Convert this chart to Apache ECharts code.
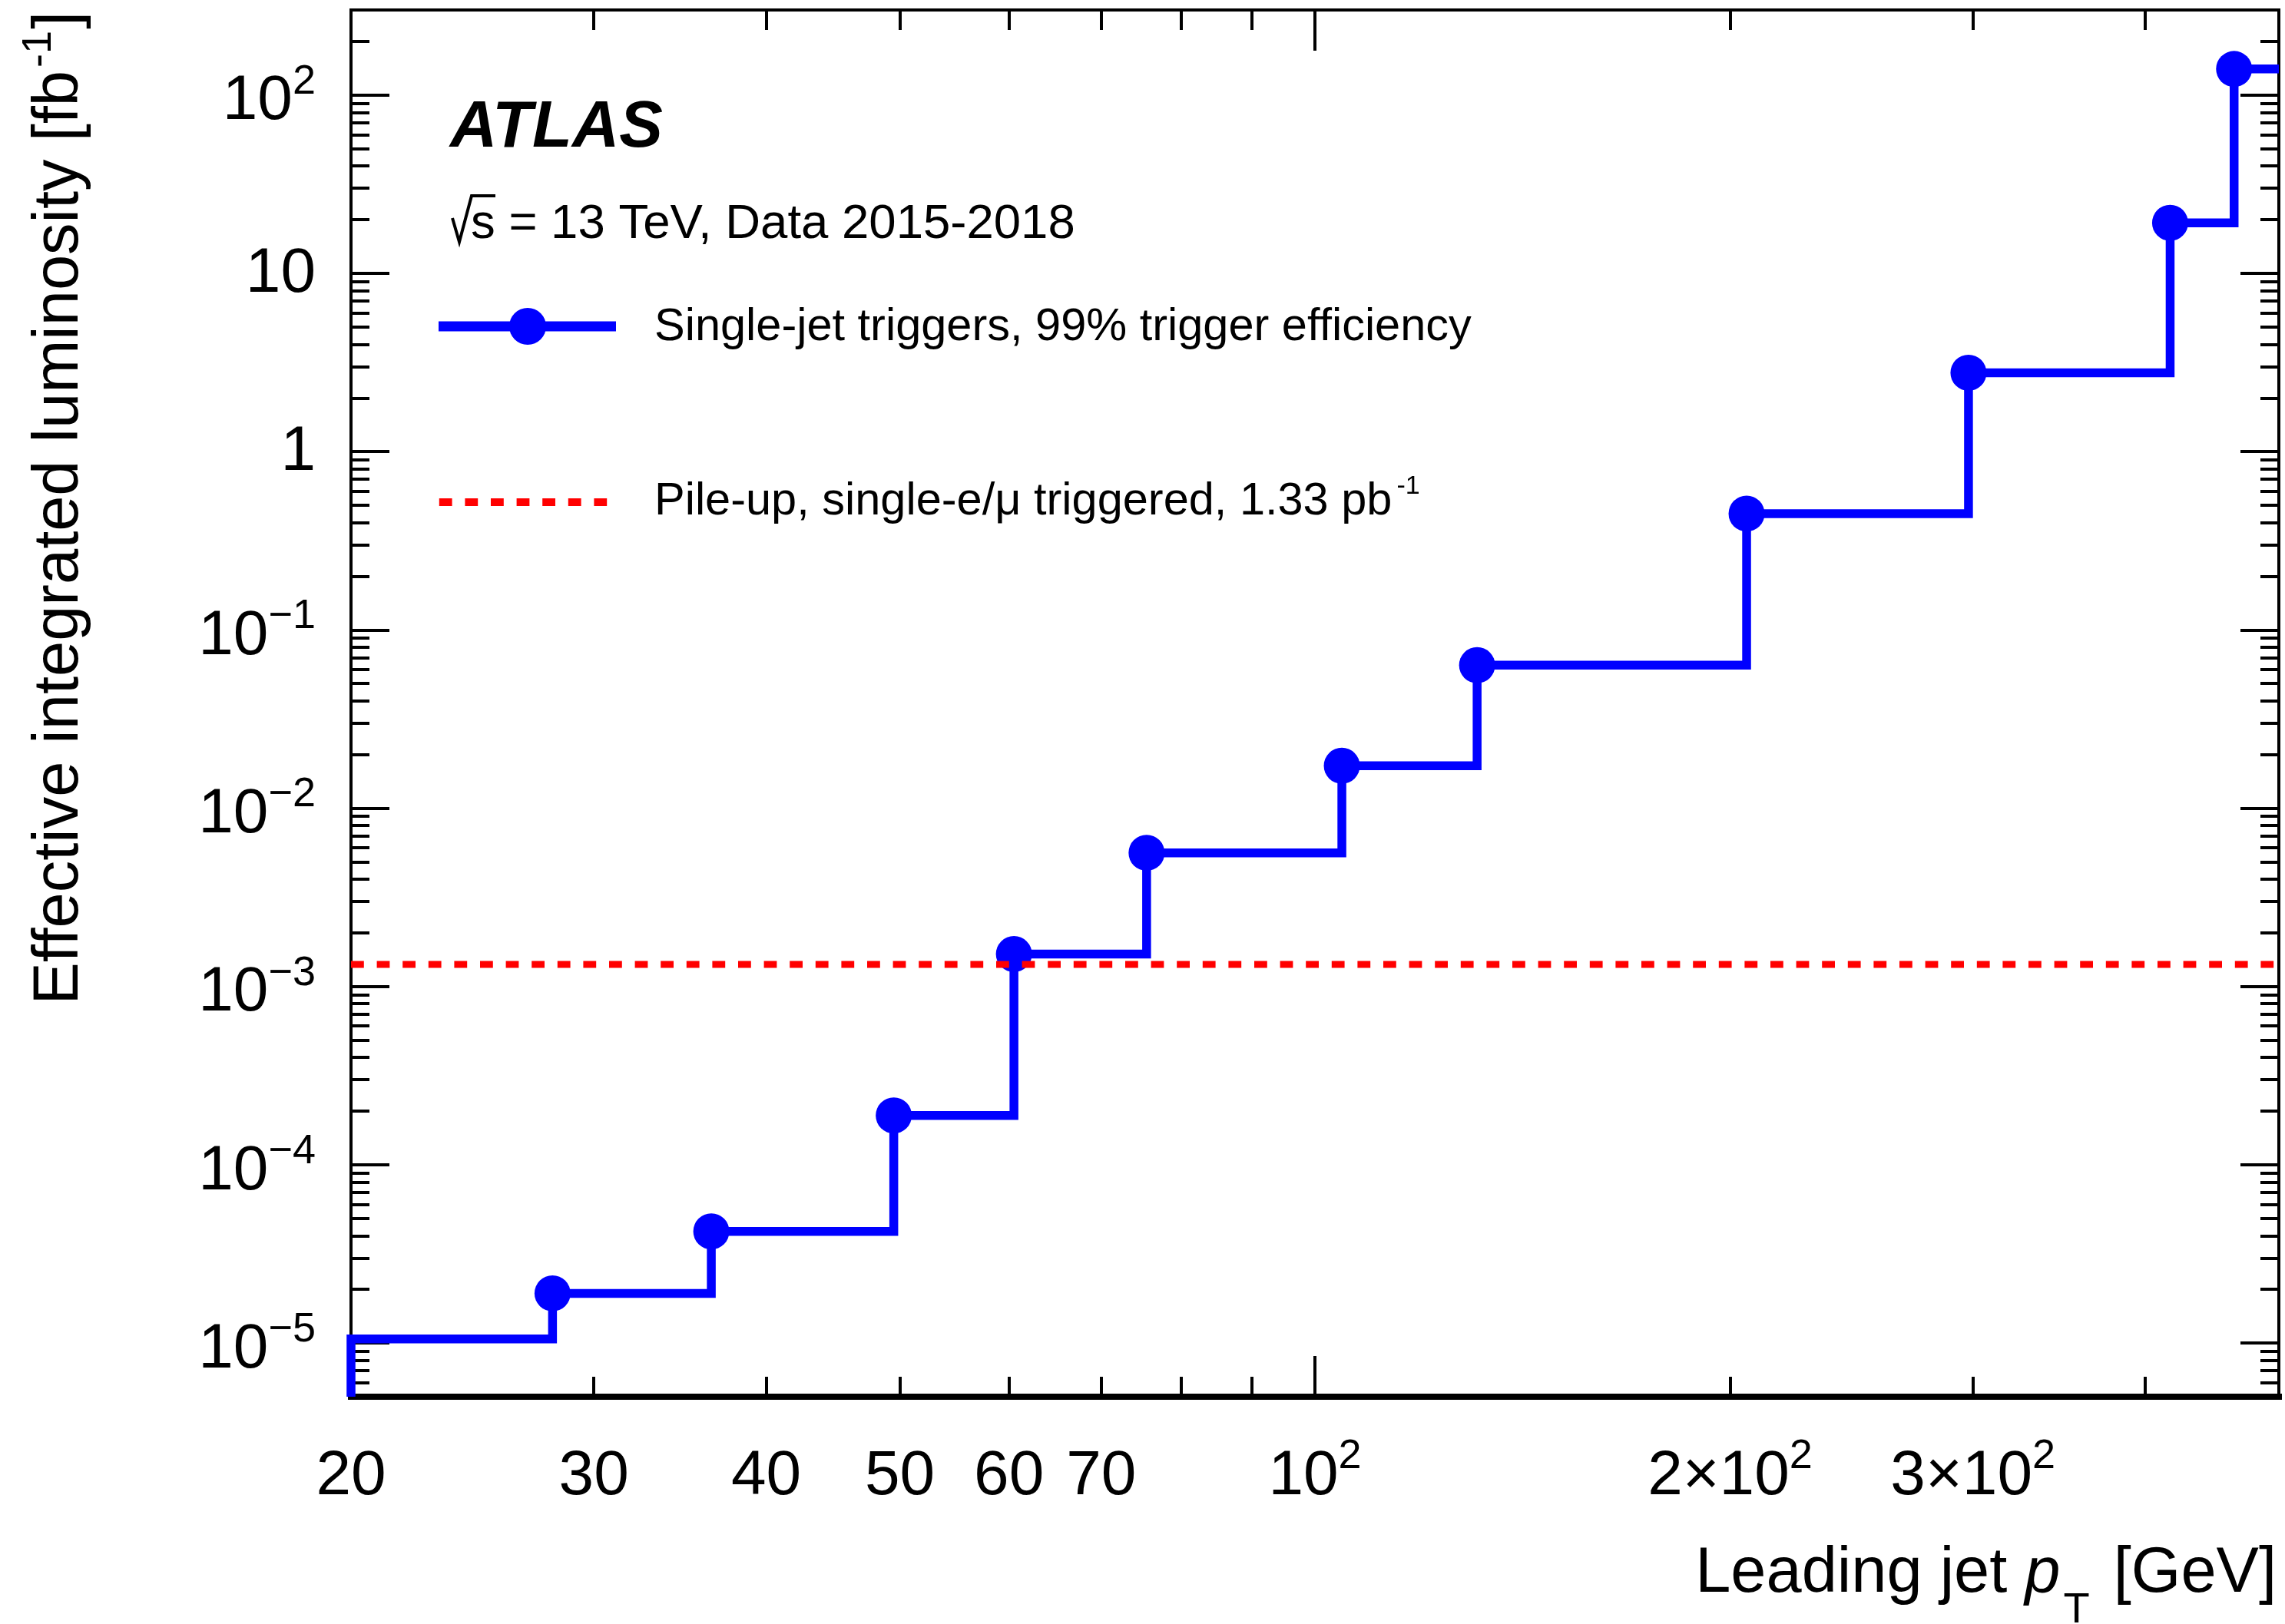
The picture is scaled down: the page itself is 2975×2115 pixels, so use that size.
<!DOCTYPE html>
<html>
<head>
<meta charset="utf-8">
<title>Effective integrated luminosity vs leading jet pT</title>
<script src="https://cdn.jsdelivr.net/npm/echarts@6/dist/echarts.min.js"></script>
<style>
  html, body { margin: 0; padding: 0; background: #ffffff; }
  #chart { width: 2975px; height: 2115px; }
</style>
</head>
<body>
<div id="chart"></div>
<script>
// Single-jet trigger thresholds: lower bin edge in leading-jet pT [GeV]
const ptEdges = [20, 28.0, 36.5, 49.5, 60.5, 75.5, 104.6, 131.1, 205.6, 297.8, 417, 464];
// Effective integrated luminosity of each bin [fb^-1]
const effLumi = [1.055e-5, 1.90e-5, 4.23e-5, 1.89e-4, 1.52e-3, 5.62e-3, 1.73e-2, 6.34e-2, 0.449, 2.77, 19.2, 140];
// Pile-up sample, single-e/mu triggered: 1.33 pb^-1 expressed in fb^-1
const pileupLumi = 1.33e-3;

// Axis ranges
const X_RANGE = [20, 500];
const Y_RANGE = [5e-6, 300];

// Tick labels: [base, superscript]
const xLabelValues = [20, 30, 40, 50, 60, 70, 100, 200, 300];
const xLabelTexts = [['20', ''], ['30', ''], ['40', ''], ['50', ''], ['60', ''], ['70', ''],
                     ['10', '2'], ['2×10', '2'], ['3×10', '2']];
const xMajorTicks = [100];
const xMinorTicks = [30, 40, 50, 60, 70, 80, 90, 200, 300, 400];

const yLabelValues = [1e-5, 1e-4, 1e-3, 1e-2, 1e-1, 1, 10, 100];
const yLabelTexts = [['10', '−5'], ['10', '−4'], ['10', '−3'], ['10', '−2'], ['10', '−1'],
                     ['1', ''], ['10', ''], ['10', '2']];
const yMajorTicks = yLabelValues;
const yMinorTicks = [];
for (let d = -6; d <= 2; d++) {
  for (let k = 2; k <= 9; k++) {
    const v = k * Math.pow(10, d);
    if (v > Y_RANGE[0] * 1.0001 && v < Y_RANGE[1] * 0.9999) yMinorTicks.push(v);
  }
}

const FONT = '"Liberation Sans", Arial, Helvetica, sans-serif';
const BLACK = '#000000';
const BLUE = '#0000ff';
const RED = '#ff0000';
const lg = v => Math.log10(v);

// Tick decorations live on helper value axes expressed in log10 units,
// stacked on the same grid as the log axes that carry the data.
function labelFor(values, texts, v, plainStyle) {
  let idx = -1;
  values.forEach((x, i) => { if (Math.abs(lg(x) - v) < 1e-9) idx = i; });
  if (idx < 0) return '';
  const base = texts[idx][0], sup = texts[idx][1];
  return sup ? '{b|' + base + '}{s|' + sup + '}' : '{' + plainStyle + '|' + base + '}';
}

function tickAxis(range, position, ticks, len, showLine, lineWidth) {
  return {
    type: 'value',
    position: position,
    min: lg(range[0]),
    max: lg(range[1]),
    axisLine: { show: !!showLine, onZero: false,
                lineStyle: { color: BLACK, width: lineWidth || 4, cap: 'square' } },
    axisTick: { show: true, inside: true, length: len, customValues: ticks.map(lg),
                lineStyle: { color: BLACK, width: 4 } },
    axisLabel: { show: false },
    splitLine: { show: false },
    splitArea: { show: false }
  };
}

// Exponent labels: base digits sit at the bottom of the line box, the exponent at its top
const labelRich = {
  b: { fontSize: 82, lineHeight: 100, verticalAlign: 'bottom', fontFamily: FONT, color: BLACK },
  s: { fontSize: 54, lineHeight: 54, padding: [6, 0, 0, 0], verticalAlign: 'top', fontFamily: FONT, color: BLACK },
  p: { fontSize: 82, lineHeight: 85, verticalAlign: 'bottom', fontFamily: FONT, color: BLACK }
};

const xLabelAxis = tickAxis(X_RANGE, 'bottom', xMajorTicks, 53);
xLabelAxis.axisLabel = {
  show: true,
  customValues: xLabelValues.map(lg),
  margin: 45,
  color: BLACK,
  fontFamily: FONT,
  formatter: v => labelFor(xLabelValues, xLabelTexts, v, 'b'),
  rich: labelRich
};

const yLabelAxis = tickAxis(Y_RANGE, 'left', yMajorTicks, 50);
yLabelAxis.axisLabel = {
  show: true,
  customValues: yLabelValues.map(lg),
  margin: 46,
  color: BLACK,
  fontFamily: FONT,
  formatter: v => labelFor(yLabelValues, yLabelTexts, v, 'p'),
  rich: labelRich
};

// Histogram outline: rises from the axis floor at the first edge, then steps at every threshold
const outline = [[ptEdges[0], Y_RANGE[0]]]
  .concat(ptEdges.map((e, i) => [e, effLumi[i]]))
  .concat([[X_RANGE[1], effLumi[effLumi.length - 1]]]);
const markers = ptEdges.slice(1).map((e, i) => [e, effLumi[i + 1]]);
const pileupLine = [[X_RANGE[0], pileupLumi], [X_RANGE[1], pileupLumi]];

const chart = echarts.init(document.getElementById('chart'), null,
  { renderer: 'canvas', width: 2975, height: 2115 });

const option = {
  animation: false,
  backgroundColor: '#ffffff',
  textStyle: { fontFamily: FONT },
  grid: { left: 457, right: 8, top: 13, bottom: 296, containLabel: false, outerBoundsMode: 'none' },
  xAxis: [
    {
      type: 'log', logBase: 10, position: 'bottom',
      min: X_RANGE[0], max: X_RANGE[1],
      axisLine: { show: true, onZero: false, lineStyle: { color: BLACK, width: 8, cap: 'square' } },
      axisTick: { show: false }, axisLabel: { show: false },
      splitLine: { show: false }, minorTick: { show: false }
    },
    tickAxis(X_RANGE, 'bottom', xMinorTicks, 26),
    xLabelAxis,
    tickAxis(X_RANGE, 'top', xMinorTicks, 26, true, 4),
    tickAxis(X_RANGE, 'top', xMajorTicks, 53)
  ],
  yAxis: [
    {
      type: 'log', logBase: 10, position: 'left',
      min: Y_RANGE[0], max: Y_RANGE[1],
      axisLine: { show: true, onZero: false, lineStyle: { color: BLACK, width: 4, cap: 'square' } },
      axisTick: { show: false }, axisLabel: { show: false },
      splitLine: { show: false }, minorTick: { show: false }
    },
    tickAxis(Y_RANGE, 'left', yMinorTicks, 24),
    yLabelAxis,
    tickAxis(Y_RANGE, 'right', yMinorTicks, 24, true, 4),
    tickAxis(Y_RANGE, 'right', yMajorTicks, 50)
  ],
  series: [
    {
      name: 'Single-jet triggers, 99% trigger efficiency',
      type: 'line', xAxisIndex: 0, yAxisIndex: 0,
      data: outline, step: 'end', symbol: 'none', clip: false, z: 3,
      lineStyle: { color: BLUE, width: 11.5, join: 'miter', cap: 'butt' }
    },
    {
      name: 'Single-jet triggers, 99% trigger efficiency',
      type: 'scatter', xAxisIndex: 0, yAxisIndex: 0,
      data: markers, symbol: 'circle', symbolSize: 47, clip: false, z: 4,
      itemStyle: { color: BLUE, opacity: 1 }
    },
    {
      name: 'Pile-up, single-e/μ triggered, 1.33 pb-1',
      type: 'line', xAxisIndex: 0, yAxisIndex: 0,
      data: pileupLine, symbol: 'none', z: 5,
      lineStyle: { color: RED, width: 9, type: [16.8, 16.8], dashOffset: 0, cap: 'butt' }
    }
  ],
  graphic: [
    // ATLAS label
    { type: 'text', x: 586, y: 168, z: 10,
      style: { text: 'ATLAS', fontSize: 85, fontWeight: 'bold', fontStyle: 'italic', fontFamily: FONT,
               fill: BLACK, align: 'left', verticalAlign: 'middle' } },
    // radical sign over s
    { type: 'polyline', z: 10,
      shape: { points: [[589, 284], [598, 315], [614, 255], [645, 255]] },
      style: { stroke: BLACK, lineWidth: 4, fill: null, lineJoin: 'miter' } },
    { type: 'text', x: 613, y: 292, z: 10,
      style: { text: 's = 13 TeV, Data 2015-2018', fontSize: 63.5, fontFamily: FONT,
               fill: BLACK, align: 'left', verticalAlign: 'middle' } },
    // legend: single-jet triggers
    { type: 'line', z: 10, shape: { x1: 571, y1: 425, x2: 802, y2: 425 },
      style: { stroke: BLUE, lineWidth: 13 } },
    { type: 'circle', z: 11, shape: { cx: 687, cy: 425, r: 24 }, style: { fill: BLUE } },
    { type: 'text', x: 852, y: 427, z: 10,
      style: { text: 'Single-jet triggers, 99% trigger efficiency', fontSize: 59.5, fontFamily: FONT,
               fill: BLACK, align: 'left', verticalAlign: 'middle' } },
    // legend: pile-up
    { type: 'line', z: 10, shape: { x1: 571.8, y1: 654, x2: 790.5, y2: 654 },
      style: { stroke: RED, lineWidth: 10, lineDash: [16.8, 16.8] } },
    { type: 'text', x: 852, y: 614, z: 10,
      style: { text: '{n|Pile-up, single-e/μ triggered, 1.33 pb}{s|-1}', fontFamily: FONT,
               fill: BLACK, align: 'left', verticalAlign: 'top',
               rich: {
                 n: { fontSize: 59.5, lineHeight: 70, verticalAlign: 'bottom', fontFamily: FONT, fill: BLACK },
                 s: { fontSize: 34, lineHeight: 34, padding: [3, 0, 0, 6], verticalAlign: 'top', fontFamily: FONT, fill: BLACK }
               } } },
    // y-axis title
    { type: 'text', x: 20, y: 15, rotation: Math.PI / 2, z: 10,
      style: { text: '{n|Effective integrated luminosity [fb}{s|-1}{n|]}', fontFamily: FONT,
               fill: BLACK, align: 'right', verticalAlign: 'top',
               rich: {
                 n: { fontSize: 83, lineHeight: 100, verticalAlign: 'bottom', fontFamily: FONT, fill: BLACK },
                 s: { fontSize: 54, lineHeight: 54, padding: [4, 2, 0, 4], verticalAlign: 'top', fontFamily: FONT, fill: BLACK }
               } } },
    // x-axis title
    { type: 'text', x: 2964, y: 2009, z: 10,
      style: { text: '{n|Leading jet }{i|p}{t|T}{n| [GeV]}', fontFamily: FONT,
               fill: BLACK, align: 'right', verticalAlign: 'top',
               rich: {
                 n: { fontSize: 83, lineHeight: 83, verticalAlign: 'top', fontFamily: FONT, fill: BLACK },
                 i: { fontSize: 83, lineHeight: 83, verticalAlign: 'top', fontStyle: 'italic', fontFamily: FONT, fill: BLACK },
                 t: { fontSize: 56, lineHeight: 56, padding: [61, 8, 0, 4], verticalAlign: 'top', fontFamily: FONT, fill: BLACK }
               } } }
  ]
};

chart.setOption(option);
</script>
</body>
</html>
